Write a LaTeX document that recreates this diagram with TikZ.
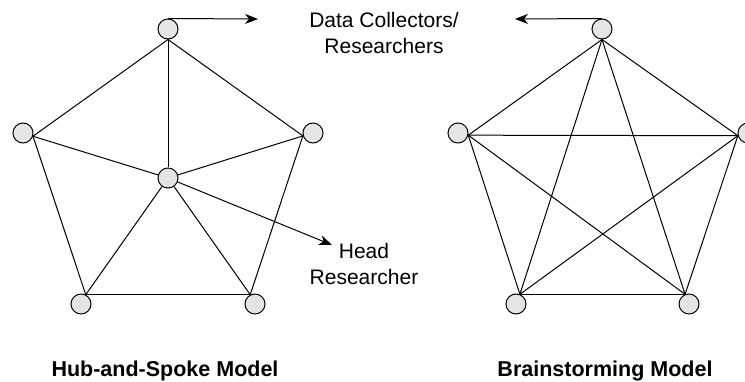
\documentclass[tikz,border=0pt]{standalone}
\usepackage{fontspec}
\setmainfont{Liberation Sans}
\usetikzlibrary{arrows.meta}

\begin{document}
\begin{tikzpicture}[x=1pt, y=-1pt, >={Stealth[length=13pt, width=10pt, inset=4pt]}, line width=1pt,
	member node/.style={circle, draw, fill=gray!20, minimum size=20pt, inner sep=0pt},
	label text/.style={font=\fontsize{21}{26}\selectfont, align=center},
	title text/.style={font=\fontsize{21.5}{24}\selectfont\bfseries}]
	\useasboundingbox (0,0) rectangle (745,382);
	
	% Hub-and-spoke nodes
	\node[member node] (h1) at (168,29) {};
	\node[member node] (h2) at (23,133) {};
	\node[member node] (h3) at (313,133) {};
	\node[member node] (h4) at (81,304) {};
	\node[member node] (h5) at (255,304) {};
	\node[member node] (hub) at (168,178) {};
	
	% Brainstorming nodes
	\node[member node] (b1) at (602,29) {};
	\node[member node] (b2) at (458,133) {};
	\node[member node] (b3) at (748,133) {};
	\node[member node] (b4) at (516,304) {};
	\node[member node] (b5) at (689,304) {};
	
	% Label ends
	\coordinate (dcL) at (258,19);
	\coordinate (dcR) at (515,19);
	\coordinate (hr) at (332,245);
	
	% Hub-and-spoke edges
	\path (h1.south) edge (h2.-18);
	\path (h1.south) edge (h3.196);
	\path (h1.south) edge (hub);
	\path (h2.-18) edge (hub);
	\path (h3.196) edge (hub);
	\path (h2.-18) edge (h4.63);
	\path (h3.196) edge (h5.117);
	\path (h4.63) edge (h5.117);
	\path (hub) edge (h4.63);
	\path (hub) edge (h5.117);
	
	% Brainstorming edges
	\path (b1.south) edge (b2.-12);
	\path (b1.south) edge (b3.195);
	\path (b1.south) edge (b4.68);
	\path (b1.south) edge (b5.112);
	\path (b2.-12) edge (b3.195);
	\path (b2.-12) edge (b4.68);
	\path (b2.-12) edge (b5.112);
	\path (b3.195) edge (b4.68);
	\path (b3.195) edge (b5.112);
	\path (b4.68) edge (b5.112);
	
	% Pointer arrows
	\draw[->] (h1.north) -- (dcL);
	\draw[->] (b1.north) -- (dcR);
	\draw[->] (hub) -- (hr);
	
	% Texts
	\node[label text, anchor=base] (dc) at (384,54) {Data Collectors/\\Researchers};
	\node[label text, anchor=base] (head) at (364,285) {Head\\Researcher};
	\node[title text, anchor=base] (t1) at (165,376) {Hub-and-Spoke Model};
	\node[title text, anchor=base] (t2) at (605,376) {Brainstorming Model};
\end{tikzpicture}
\end{document}
